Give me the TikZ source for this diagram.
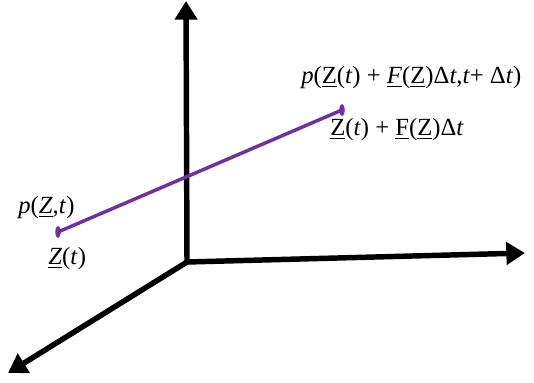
\documentclass[tikz,border=0pt]{standalone}
\usepackage{fontspec}
\setmainfont{Liberation Serif}
\usetikzlibrary{arrows.meta}
\definecolor{lnpurple}{HTML}{7030A0}
\begin{document}
\begin{tikzpicture}[x=0.75pt,y=-0.75pt,
  axis/.style={line width=4.1pt,-{Triangle[length=14pt,width=16.5pt]}},
  traj/.style={line width=2.6pt,lnpurple},
  lbl/.style={inner sep=0pt,anchor=west,font=\fontsize{18.5}{21}\selectfont}]
\useasboundingbox (0,0) rectangle (534,382);
\coordinate (O) at (187,262);
\coordinate (up) at (186,1);
\coordinate (rt) at (525,253);
\coordinate (dl) at (8,373);
\draw[axis] (O) -- (up);
\draw[axis] (O) -- (rt);
\draw[axis] (O) -- (dl);
\coordinate (A) at (58,232);
\coordinate (B) at (342,110);
\draw[traj] (A) -- (B);
\fill[lnpurple] (A) ellipse [x radius=2pt,y radius=4.6pt];
\fill[lnpurple] (B) ellipse [x radius=2pt,y radius=4.6pt];
\node[lbl] (l1) at (301,78) {\textit{p}(\underline{Z}(\textit{t}) + \underline{\textit{F}}(\underline{Z})Δ\textit{t},\textit{t}+ Δ\textit{t})};
\node[lbl] (l2) at (330,130) {\underline{Z}(\textit{t}) + \underline{F}(\underline{Z})Δ\textit{t}};
\node[lbl] (l3) at (18,208) {\textit{p}(\underline{\textit{Z}},\textit{t})};
\node[lbl] (l4) at (48,259) {\underline{\textit{Z}}(\textit{t})};
\end{tikzpicture}
\end{document}
